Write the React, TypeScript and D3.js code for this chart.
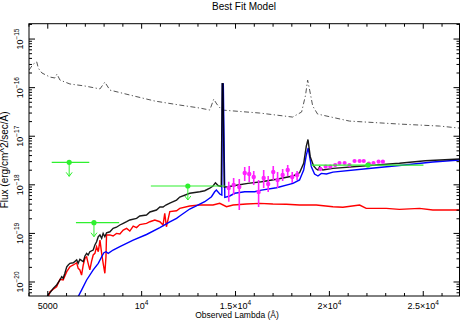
import React, { useRef, useEffect } from "react";
import * as d3 from "d3";

// [observed lambda (A), flux (erg/cm^2/sec/A)]
const templateLine = [
  [4000, 2.3e-16], [4210, 3.0e-16], [4410, 3.4e-16], [4500, 2.5e-16], [4690, 2.0e-16],
  [5120, 1.65e-16], [5380, 1.58e-16], [5490, 1.9e-16], [5650, 1.43e-16], [6180, 1.19e-16],
  [6980, 1.08e-16], [7780, 9.4e-17], [8040, 1.3e-16], [8310, 8.9e-17], [9370, 7.05e-17],
  [10700, 5.3e-17], [12030, 4.38e-17], [13100, 3.8e-17], [13630, 3.46e-17], [13840, 5.8e-17],
  [14000, 4.6e-17], [14270, 3.46e-17], [16290, 3.0e-17], [18040, 2.48e-17], [18520, 3.15e-17],
  [18730, 7.0e-17], [18840, 1.43e-16], [18950, 8.9e-17], [19110, 4.2e-17], [19370, 2.86e-17],
  [21070, 2.05e-17], [23730, 1.78e-17], [25860, 1.62e-17], [26930, 1.47e-17],
];

const totalModel = [
  [4900, 4.3e-21], [5040, 5.7e-21], [5120, 6.0e-21], [5290, 7.4e-21], [5470, 8.7e-21],
  [5650, 1.1e-20], [5740, 1.29e-20], [5820, 1.19e-20], [5910, 1.51e-20], [6010, 2.06e-20],
  [6090, 2.24e-20], [6180, 2.42e-20], [6360, 2.49e-20], [6540, 2.84e-20], [6620, 2.42e-20],
  [6710, 2.93e-20], [6890, 2.62e-20], [6980, 3.43e-20], [7070, 3.89e-20], [7150, 3.6e-20],
  [7240, 4.2e-20], [7420, 4.55e-20], [7510, 5.77e-20], [7600, 6.75e-20], [7690, 8.55e-20],
  [7780, 9.3e-20], [7870, 7.9e-20], [7950, 1.0e-19], [8040, 8.55e-20], [8130, 1.03e-19],
  [8310, 1.08e-19], [8480, 1.27e-19], [8660, 1.34e-19], [8840, 1.49e-19], [9020, 1.61e-19],
  [9200, 1.74e-19], [9370, 1.89e-19], [9730, 2.04e-19], [9900, 2.28e-19], [10260, 2.39e-19],
  [10440, 2.76e-19], [10790, 3.03e-19], [10970, 3.49e-19], [11140, 3.5e-19], [11290, 3.84e-19],
  [11500, 4.22e-19], [11860, 4.86e-19], [12030, 5.61e-19], [12560, 6.7e-19], [13100, 7.2e-19],
  [13360, 7.56e-19], [13630, 8.5e-19], [13800, 9.45e-19], [13930, 1.1e-18], [14070, 9.67e-19],
  [14240, 9.2e-19], [14290, 1.2e-16], [14330, 1.2e-16], [14400, 9.0e-19], [14600, 9.1e-19],
  [15130, 9.9e-19], [15660, 1.07e-18], [16380, 1.16e-18], [17180, 1.3e-18], [18060, 1.52e-18],
  [18410, 1.77e-18], [18630, 2.77e-18], [18770, 6.28e-18], [18860, 8.55e-18], [18980, 3.79e-18],
  [19160, 2.44e-18], [19300, 2.11e-18], [19390, 2.02e-18], [19480, 2.36e-18], [19650, 2.02e-18],
  [20190, 2.18e-18], [21960, 2.47e-18], [23730, 2.77e-18], [25110, 3.13e-18], [26930, 3.39e-18],
];

const stellarModel = [
  [5030, 5.0e-21], [5120, 6.3e-21], [5290, 7.1e-21], [5470, 8.0e-21], [5650, 1.14e-20],
  [5820, 1.1e-20], [6010, 1.63e-20], [6180, 2.06e-20], [6360, 2.24e-20], [6540, 2.49e-20],
  [6620, 1.91e-20], [6710, 1.77e-20], [6800, 1.39e-20], [6890, 2.24e-20], [6980, 3.07e-20],
  [7070, 3.31e-20], [7150, 2.42e-20], [7240, 1.77e-20], [7330, 2.62e-20], [7420, 3.6e-20],
  [7510, 3.89e-20], [7600, 5.32e-20], [7690, 4.2e-20], [7780, 7.3e-20], [7870, 3.89e-20],
  [7950, 2.42e-20], [8040, 1.51e-20], [8100, 3.31e-20], [8130, 9.3e-20], [8310, 9.3e-20],
  [8480, 8.84e-20], [8660, 1.0e-19], [8840, 9.7e-20], [9020, 1.17e-19], [9200, 1.27e-19],
  [9370, 1.12e-19], [9550, 1.42e-19], [9730, 1.32e-19], [9900, 1.52e-19], [10260, 1.61e-19],
  [10440, 1.74e-19], [10700, 1.89e-19], [10970, 1.74e-19], [11140, 1.49e-19], [11230, 2.59e-19],
  [11320, 1.37e-19], [11500, 2.8e-19], [11860, 2.93e-19], [12030, 3.28e-19], [12560, 3.66e-19],
  [13100, 3.84e-19], [13800, 3.84e-19], [14160, 4.16e-19], [14520, 3.54e-19], [14870, 3.84e-19],
  [15580, 4.02e-19], [16290, 4.16e-19], [16990, 4.02e-19], [17710, 3.97e-19], [18410, 3.84e-19],
  [19300, 3.84e-19], [20190, 3.54e-19], [20720, 3.45e-19], [21610, 3.84e-19], [21960, 3.28e-19],
  [23030, 3.28e-19], [23730, 3.13e-19], [24800, 3.28e-19], [25510, 3.03e-19], [26930, 3.03e-19],
];

const agnModel = [
  [6620, 5.0e-21], [6800, 6.8e-21], [7070, 1.1e-20], [7420, 1.77e-20], [7690, 2.42e-20],
  [7870, 3.31e-20], [7990, 4.0e-20], [8100, 4.2e-20], [8220, 3.89e-20], [8480, 4.55e-20],
  [8840, 5.32e-20], [9550, 7.3e-20], [10260, 9.5e-20], [10970, 1.32e-19], [11500, 1.72e-19],
  [11860, 2.04e-19], [12030, 2.28e-19], [12560, 3.18e-19], [12830, 3.54e-19], [13360, 4.49e-19],
  [13720, 5.69e-19], [13890, 7.2e-19], [13980, 7.8e-19], [14160, 6.46e-19], [14270, 6.16e-19],
  [14300, 1.19e-16], [14350, 1.19e-16], [14430, 5.53e-19], [14690, 5.89e-19], [14960, 6.7e-19],
  [15490, 7.2e-19], [16020, 7.2e-19], [16380, 7.8e-19], [17180, 8.7e-19], [18060, 1.07e-18],
  [18410, 1.26e-18], [18630, 2.02e-18], [18770, 4.1e-18], [18870, 5.72e-18], [19040, 2.36e-18],
  [19210, 1.67e-18], [19390, 1.52e-18], [19570, 1.72e-18], [19840, 1.67e-18], [20190, 1.83e-18],
  [21960, 2.14e-18], [23730, 2.49e-18], [25510, 2.95e-18], [26930, 3.24e-18],
];

// photometry: [lambda, lambda lo, lambda hi, flux]
const photUpperLimits = [
  [6140, 5210, 7210, 2.9e-18],
  [7460, 6500, 8800, 1.66e-19],
  [12460, 10490, 14430, 9.45e-19],
];
const photDetections = [[22050, 19040, 25010, 2.55e-18]];

// spectrum: [lambda, flux, flux lo, flux hi]
const specJ = [
  [14640, 8.6e-19, 4.5e-19, 1.16e-18],
  [14900, 9.9e-19, 6.16e-19, 1.38e-18],
  [15200, 9.0e-19, 3.03e-19, 1.32e-18],
  [15490, 1.75e-18, 1.2e-18, 2.32e-18],
  [15730, 1.67e-18, 1.14e-18, 2.44e-18],
  [15970, 1.45e-18, 9.9e-19, 1.92e-18],
  [16230, 7.1e-19, 3.49e-19, 1.26e-18],
  [16500, 1.38e-18, 8.6e-19, 2.02e-18],
  [16740, 1.04e-18, 7.1e-19, 1.52e-18],
  [17010, 1.83e-18, 1.26e-18, 2.44e-18],
  [17240, 1.26e-18, 8.6e-19, 1.83e-18],
  [17510, 1.59e-18, 1.2e-18, 2.11e-18],
  [17780, 2.02e-18, 1.52e-18, 2.55e-18],
  [18020, 1.45e-18, 1.09e-18, 1.83e-18],
  [18280, 1.59e-18, 1.26e-18, 1.92e-18],
];
const specK = [
  [19520, 2.11e-18], [19800, 2.36e-18], [20050, 2.36e-18], [20310, 2.55e-18], [20540, 2.81e-18],
  [20810, 2.81e-18], [21070, 2.55e-18], [21340, 3.09e-18], [21610, 3.09e-18], [21830, 3.09e-18],
  [22100, 2.74e-18], [22350, 2.81e-18], [22620, 2.99e-18], [22850, 2.99e-18],
];

const xMajor = [5000, 10000, 15000, 20000, 25000];
const xLabels = [["5000", ""], ["10", "4"], ["1.5×10", "4"], ["2×10", "4"], ["2.5×10", "4"]];
const yExponents = [-20, -19, -18, -17, -16, -15];

const FONT = "'Liberation Sans', Arial, Helvetica, sans-serif";

const App = () => {
  const container = useRef<SVGSVGElement>(null);
  useEffect(() => {
    createChart();
  });

  const createChart = () => {
    const svg = d3.select(container.current);
    const box = { l: 29, r: 459.5, t: 23.7, b: 296 };

    const xScale = d3.scaleLinear().domain([4000, 26930]).range([box.l, box.r]);
    const yScale = d3.scaleLog().domain([5.15e-21, 2.07e-15]).range([box.b, box.t]);

    svg.selectAll("*").remove();

    svg.append("defs").append("clipPath").attr("id", "plot-clip")
      .append("rect")
      .attr("x", box.l).attr("y", box.t)
      .attr("width", box.r - box.l).attr("height", box.b - box.t);

    const plot_g = svg.append("g").attr("clip-path", "url(#plot-clip)");

    const line = d3.line<number[]>()
      .x((d) => xScale(d[0]))
      .y((d) => yScale(d[1]));

    // model curves
    plot_g.append("path").datum(templateLine)
      .attr("d", line).attr("fill", "none")
      .attr("stroke", "#555").attr("stroke-width", 1)
      .attr("stroke-dasharray", "5 2.5 1.2 2.5");

    plot_g.append("path").datum(stellarModel)
      .attr("d", line).attr("fill", "none")
      .attr("stroke", "#ff0000").attr("stroke-width", 1.4);

    plot_g.append("path").datum(agnModel)
      .attr("d", line).attr("fill", "none")
      .attr("stroke", "#0000ff").attr("stroke-width", 1.4);

    plot_g.append("path").datum(totalModel)
      .attr("d", line).attr("fill", "none")
      .attr("stroke", "#000").attr("stroke-width", 1.4)
      .attr("stroke-opacity", 0.9);

    // spectrum with error bars
    const specColor = "#ff22ff";
    plot_g.selectAll(".spec-err").data(specJ).join("line")
      .attr("class", "spec-err")
      .attr("x1", (d) => xScale(d[0])).attr("x2", (d) => xScale(d[0]))
      .attr("y1", (d) => yScale(d[2])).attr("y2", (d) => yScale(d[3]))
      .attr("stroke", specColor).attr("stroke-width", 1.6);
    plot_g.selectAll(".spec-j").data(specJ).join("circle")
      .attr("class", "spec-j")
      .attr("cx", (d) => xScale(d[0])).attr("cy", (d) => yScale(d[1]))
      .attr("r", 2.2).attr("fill", specColor);
    plot_g.selectAll(".spec-k").data(specK).join("circle")
      .attr("class", "spec-k")
      .attr("cx", (d) => xScale(d[0])).attr("cy", (d) => yScale(d[1]))
      .attr("r", 2.1).attr("fill", specColor);

    // photometry
    const green = "#2ef02e";
    const phot = [...photUpperLimits, ...photDetections];
    plot_g.selectAll(".phot-bar").data(phot).join("line")
      .attr("class", "phot-bar")
      .attr("x1", (d) => xScale(d[1])).attr("x2", (d) => xScale(d[2]))
      .attr("y1", (d) => yScale(d[3])).attr("y2", (d) => yScale(d[3]))
      .attr("stroke", green).attr("stroke-width", 1.2);
    const limits = plot_g.selectAll(".phot-lim").data(photUpperLimits).join("g")
      .attr("class", "phot-lim")
      .attr("transform", (d) => `translate(${xScale(d[0])},${yScale(d[3])})`);
    limits.append("line").attr("x1", 0).attr("x2", 0).attr("y1", 0).attr("y2", 14)
      .attr("stroke", green).attr("stroke-width", 1);
    limits.append("path").attr("d", "M-3,10 L0,14 L3,10").attr("fill", "none")
      .attr("stroke", green).attr("stroke-width", 1);
    plot_g.selectAll(".phot-pt").data(phot).join("circle")
      .attr("class", "phot-pt")
      .attr("cx", (d) => xScale(d[0])).attr("cy", (d) => yScale(d[3]))
      .attr("r", 2.6).attr("fill", green);

    // frame
    svg.append("rect")
      .attr("x", box.l).attr("y", box.t)
      .attr("width", box.r - box.l).attr("height", box.b - box.t)
      .attr("fill", "none").attr("stroke", "#000").attr("stroke-width", 1);

    // ticks (inward, all four sides)
    const xMinor = d3.range(4000, 27000, 1000).filter((v) => !xMajor.includes(v));
    const yMinor: number[] = [];
    for (let e = -21; e <= -15; e++) {
      for (let k = 2; k <= 9; k++) {
        const v = k * Math.pow(10, e);
        if (v > 5.15e-21 && v < 2.07e-15) yMinor.push(v);
      }
    }
    const yMajor = yExponents.map((e) => Math.pow(10, e));
    const tick_g = svg.append("g").attr("stroke", "#000").attr("stroke-width", 1);
    const xTicks = [...xMajor.map((v) => [v, 5]), ...xMinor.map((v) => [v, 3])];
    xTicks.forEach(([v, len]) => {
      const x = xScale(v);
      tick_g.append("line").attr("x1", x).attr("x2", x).attr("y1", box.b).attr("y2", box.b - len);
      tick_g.append("line").attr("x1", x).attr("x2", x).attr("y1", box.t).attr("y2", box.t + len);
    });
    const yTicks = [...yMajor.map((v) => [v, 6]), ...yMinor.map((v) => [v, 3])];
    yTicks.forEach(([v, len]) => {
      const y = yScale(v);
      tick_g.append("line").attr("x1", box.l).attr("x2", box.l + len).attr("y1", y).attr("y2", y);
      tick_g.append("line").attr("x1", box.r).attr("x2", box.r - len).attr("y1", y).attr("y2", y);
    });

    // tick labels
    const xl = svg.selectAll(".xlabel").data(xMajor).join("text")
      .attr("class", "xlabel")
      .attr("x", (d) => xScale(d)).attr("y", 308.5)
      .attr("text-anchor", "middle")
      .style("font-family", FONT).style("font-size", "9px");
    xl.append("tspan").text((d, i) => xLabels[i][0]);
    xl.append("tspan").attr("dy", -4).style("font-size", "6.5px").text((d, i) => xLabels[i][1]);

    const yl = svg.selectAll(".ylabel").data(yExponents).join("text")
      .attr("class", "ylabel")
      .attr("transform", (d) => `translate(23,${yScale(Math.pow(10, d))}) rotate(-90)`)
      .attr("text-anchor", "middle")
      .style("font-family", FONT).style("font-size", "9px");
    yl.append("tspan").text("10");
    yl.append("tspan").attr("dy", -4).style("font-size", "6.5px").text((d) => `\u2212${-d}`);

    // titles
    svg.append("text").attr("x", 244).attr("y", 10).attr("text-anchor", "middle")
      .style("font-family", FONT).style("font-size", "10px")
      .text("Best Fit Model");
    svg.append("text").attr("x", 237).attr("y", 318).attr("text-anchor", "middle")
      .style("font-family", FONT).style("font-size", "8.5px").text("Observed Lambda (\u00c5)");
    svg.append("text")
      .attr("transform", `translate(8,${(box.t + box.b) / 2}) rotate(-90)`)
      .attr("text-anchor", "middle")
      .style("font-family", FONT).style("font-size", "10px")
      .text("Flux (erg/cm^2/sec/\u00c5)");
  };

  return (
    <div style={{ position: "fixed", left: 0, top: 0 }}>
      <svg ref={container} width={463} height={327} style={{ display: "block", background: "#fff" }} />
    </div>
  );
};

export default App;
